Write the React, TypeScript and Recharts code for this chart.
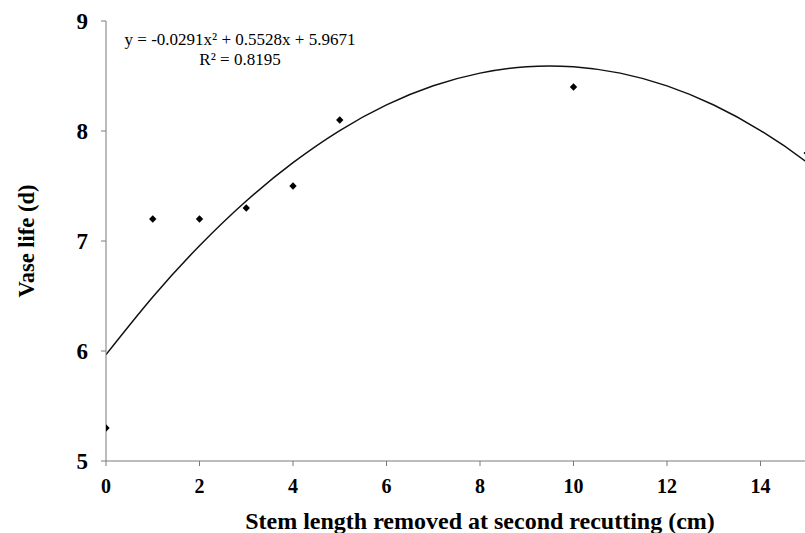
import React from 'react';
import { ComposedChart, Line, Scatter, XAxis, YAxis, Label } from 'recharts';

const stemRemoved = [0, 1, 2, 3, 4, 5, 10, 15];
const vaseLife = [5.3, 7.2, 7.2, 7.3, 7.5, 8.1, 8.4, 7.8];

const curveX = [0, 1, 2, 3, 4, 5, 6, 7, 8, 9, 10, 11, 12, 13, 14, 15, 16];
const curveY = [5.967, 6.491, 6.957, 7.364, 7.712, 8.004, 8.237, 8.411, 8.526, 8.585, 8.584, 8.526, 8.410, 8.236, 8.004, 7.713, 7.365];

const xTicks = [0, 2, 4, 6, 8, 10, 12, 14];
const yTicks = [5, 6, 7, 8, 9];

const equationText = 'y = -0.0291x² + 0.5528x + 5.9671';
const r2Text = 'R² = 0.8195';

const points = stemRemoved.map((x, i) => ({ x, y: vaseLife[i] }));
const curve = curveX.map((x, i) => ({ x, y: curveY[i] }));

const font = '"Liberation Serif", "Times New Roman", serif';
const axisColor = '#7a7a7a';

const Diamond = (props: any) => {
  const { cx, cy } = props;
  const r = 3.7;
  return (
    <polygon
      points={`${cx},${cy - r} ${cx + r},${cy} ${cx},${cy + r} ${cx - r},${cy}`}
      fill="#000"
    />
  );
};

export default function App() {
  return (
    <div style={{ position: 'absolute', left: 0, top: 0, width: 805, height: 533, overflow: 'hidden', background: '#fff' }}>
      <ComposedChart
        width={880}
        height={533}
        margin={{ top: 21, right: 26, bottom: 20, left: 46 }}
      >
        <XAxis
          type="number"
          dataKey="x"
          domain={[0, 16]}
          ticks={xTicks}
          interval={0}
          allowDataOverflow
          stroke={axisColor}
          tickSize={5}
          tickMargin={13}
          height={52}
          tick={{ fill: '#000', fontFamily: font, fontWeight: 'bold', fontSize: 20 }}
        >
          <Label
            value="Stem length removed at second recutting (cm)"
            position="insideBottom"
            offset={-16}
            style={{ fill: '#000', fontFamily: font, fontWeight: 'bold', fontSize: 24 }}
          />
        </XAxis>
        <YAxis
          type="number"
          dataKey="y"
          domain={[5, 9]}
          ticks={yTicks}
          interval={0}
          allowDataOverflow
          stroke={axisColor}
          tickSize={5}
          tickMargin={13}
          width={60}
          tick={{ fill: '#000', fontFamily: font, fontWeight: 'bold', fontSize: 23 }}
        >
          <Label
            value="Vase life (d)"
            angle={-90}
            position="insideLeft"
            offset={-20}
            style={{ textAnchor: 'middle', fill: '#000', fontFamily: font, fontWeight: 'bold', fontSize: 22.5 }}
          />
        </YAxis>
        <Line
          data={curve}
          dataKey="y"
          type="natural"
          stroke="#111"
          strokeWidth={1.5}
          dot={false}
          activeDot={false}
          isAnimationActive={false}
        />
        <Scatter data={points} dataKey="y" shape={Diamond} isAnimationActive={false} />
      </ComposedChart>
      <div
        style={{
          position: 'absolute',
          left: 90,
          top: 30,
          width: 300,
          textAlign: 'center',
          fontFamily: font,
          fontSize: 17,
          lineHeight: '20px',
          color: '#000',
        }}
      >
        <div>{equationText}</div>
        <div>{r2Text}</div>
      </div>
    </div>
  );
}
